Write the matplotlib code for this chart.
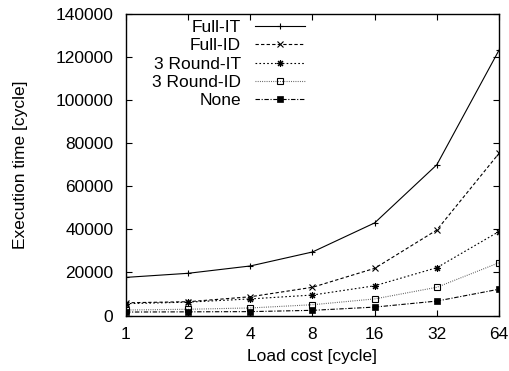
import matplotlib
matplotlib.use("Agg")
import matplotlib.pyplot as plt
from matplotlib.ticker import FixedLocator, FixedFormatter, NullLocator

plt.rcParams['font.family'] = ['Liberation Sans', 'DejaVu Sans']

load_cost = [1, 2, 4, 8, 16, 32, 64]
tick_labels = ["1", "2", "4", "8", "16", "32", "64"]
full_it = [17700, 19600, 23000, 29500, 43000, 70000, 123200]
full_id = [5900, 6400, 8700, 13100, 21900, 39700, 75300]
round3_it = [5500, 6200, 7700, 9500, 13800, 22200, 39000]
round3_id = [2550, 2900, 3500, 5000, 7700, 13100, 24500]
none_vals = [1600, 1700, 1800, 2400, 3900, 6700, 12200]
y_ticks = [0, 20000, 40000, 60000, 80000, 100000, 120000, 140000]

FS = 12.5
fig = plt.figure(figsize=(5.10, 3.71), dpi=100)
ax = fig.add_axes([126/510, 1 - 315.5/371, (499-126)/510, (315.5-14)/371])

lw = 0.8
ms = 5
ax.plot(load_cost, full_it, color='black', lw=lw, ls='-', marker='+', ms=ms, mew=0.8, label='Full-IT')
ax.plot(load_cost, full_id, color='black', lw=lw, ls=(0, (3, 2)), marker='x', ms=ms-1, mew=0.8, label='Full-ID')
ax.plot(load_cost, round3_it, color='black', lw=lw, ls=(0, (1.5, 2)), marker=(8, 2, 0), ms=ms, mew=0.8, label='3 Round-IT')
ax.plot(load_cost, round3_id, color='#555555', lw=lw, ls=(0, (0.8, 1.2)), marker='s', ms=ms-0.5, mew=0.8,
        mfc='none', mec='black', label='3 Round-ID')
ax.plot(load_cost, none_vals, color='black', lw=lw, ls=(0, (4, 1.5, 1, 1.5)), marker='s', ms=ms-0.5, mew=0.5,
        mfc='black', mec='black', label='None')

ax.set_xscale('log', base=2)
ax.set_xlim(1, 64)
ax.set_ylim(0, 140000)
ax.xaxis.set_major_locator(FixedLocator(load_cost))
ax.xaxis.set_major_formatter(FixedFormatter(tick_labels))
ax.xaxis.set_minor_locator(NullLocator())
ax.set_yticks(y_ticks)
ax.set_yticklabels([str(v) for v in y_ticks])
ax.tick_params(direction='in', length=4.5, width=0.8, labelsize=FS, top=True, right=True)
ax.tick_params(axis='y', pad=9)
ax.tick_params(axis='x', pad=8)
for s in ax.spines.values():
    s.set_linewidth(1.0)

ax.set_xlabel('Load cost [cycle]', fontsize=FS, labelpad=5)
ax.set_ylabel('Execution time [cycle]', fontsize=FS, labelpad=20)

leg = ax.legend(loc='upper right', bbox_to_anchor=((305-126)/373, (315.5-20)/301.5),
                frameon=False, markerfirst=False, fontsize=FS, handlelength=2.9,
                handletextpad=0.8, labelspacing=0.18, borderpad=0, borderaxespad=0)

fig.savefig('out.png', dpi=100)
